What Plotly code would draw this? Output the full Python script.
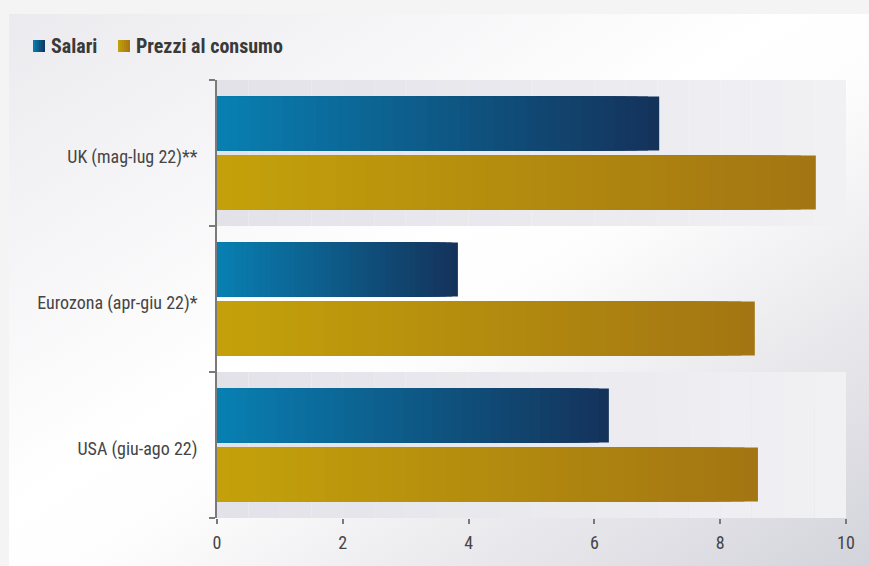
import base64
import plotly.graph_objects as go

# ---- data ----
categories = ["USA (giu-ago 22)", "Eurozona (apr-giu 22)*", "UK (mag-lug 22)**"]
salari = [6.23, 3.83, 7.03]
prezzi = [8.60, 8.55, 9.52]
series_names = ["Salari", "Prezzi al consumo"]
x_ticks = [0, 2, 4, 6, 8, 10]

# ---- styles ----
FONT = "Roboto Condensed, Roboto, Arial"
TXT = "#454545"
AX = "#7a7a7a"
sal_grad = ((8, 128, 178), (20, 50, 90))
pre_grad = ((196, 162, 10), (163, 117, 19))
N = 40


def lerp(c0, c1, t):
    return "rgb(%d,%d,%d)" % tuple(round(a + (b - a) * t) for a, b in zip(c0, c1))


fig = go.Figure()

bar_w = 0.37
specs = [
    (series_names[0], salari, sal_grad, 0.017),
    (series_names[1], prezzi, pre_grad, -0.387),
]
for name, vals, grad, off in specs:
    for k in range(N, 0, -1):
        t = (k - 0.5) / N
        fig.add_trace(go.Bar(
            y=list(range(len(categories))),
            x=[v * k / N for v in vals],
            orientation="h",
            width=bar_w,
            offset=off,
            marker=dict(color=lerp(grad[0], grad[1], t), line=dict(width=0)),
            name=name,
            showlegend=False,
            legendgroup=name,
            hoverinfo="skip",
        ))

L, R, T, B = 217, 846, 80, 518
pw, ph = R - L, B - T


def px_x(p):
    return (p - L) / pw


def px_y(p):
    return (B - p) / ph


# background bands (alternate categories), horizontal light gradient
band_c0, band_c1 = (227, 226, 233), (241, 241, 244)
S = 20
for i in range(len(categories)):
    if i % 2 == 0:
        for s in range(S):
            fig.add_shape(type="rect", xref="x", yref="y",
                          x0=10 * s / S, x1=10 * (s + 1) / S,
                          y0=i - 0.5, y1=i + 0.5,
                          fillcolor=lerp(band_c0, band_c1, (s + 0.5) / S),
                          line=dict(width=0), layer="below")

# custom legend: gradient squares + bold labels
legend_items = [(series_names[0], sal_grad, 33, 50), (series_names[1], pre_grad, 118, 135)]
sq = 12
ly = 46
M = 6
for name, grad, sx, tx in legend_items:
    for s in range(M):
        fig.add_shape(type="rect", xref="paper", yref="paper",
                      x0=px_x(sx + sq * s / M), x1=px_x(sx + sq * (s + 1) / M),
                      y0=px_y(ly + sq / 2), y1=px_y(ly - sq / 2),
                      fillcolor=lerp(grad[0], grad[1], (s + 0.5) / M),
                      line=dict(width=0))
    fig.add_annotation(text="<b>%s</b>" % name, xref="paper", yref="paper",
                       x=px_x(tx - 1), y=px_y(ly), xanchor="left", yanchor="middle",
                       showarrow=False,
                       font=dict(family=FONT, size=20, color="#3a3a3a"))

# panel background gradient via svg image
svg = ('<svg xmlns="http://www.w3.org/2000/svg" width="860" height="552" preserveAspectRatio="none">'
       '<defs><linearGradient id="g" x1="0" y1="0" x2="1" y2="1">'
       '<stop offset="0" stop-color="#ebebef"/>'
       '<stop offset="0.45" stop-color="#ffffff"/>'
       '<stop offset="0.55" stop-color="#fdfdfd"/>'
       '<stop offset="1" stop-color="#d3d3db"/>'
       '</linearGradient></defs>'
       '<rect width="860" height="552" fill="url(#g)"/></svg>')
src = "data:image/svg+xml;base64," + base64.b64encode(svg.encode()).decode()

fig.add_layout_image(dict(
    source=src, xref="paper", yref="paper",
    x=px_x(9), y=px_y(14),
    sizex=(869 - 9) / pw, sizey=(566 - 14) / ph,
    xanchor="left", yanchor="top", sizing="stretch", layer="below",
))

fig.update_layout(
    width=869, height=566,
    margin=dict(l=L, r=869 - R, t=T, b=566 - B),
    paper_bgcolor="#f4f4f4",
    plot_bgcolor="rgba(0,0,0,0)",
    barmode="overlay",
    font=dict(family=FONT, color=TXT, size=18),
    showlegend=False,
    xaxis=dict(
        range=[0, 10], tickvals=x_ticks, showgrid=False, zeroline=False,
        showline=False, ticks="outside", ticklen=5, tickwidth=2, tickcolor=AX,
        tickfont=dict(size=18, color=TXT), ticklabelstandoff=3, fixedrange=True,
    ),
    yaxis=dict(
        range=[-0.5, len(categories) - 0.5],
        tickvals=list(range(len(categories))), ticktext=categories,
        showgrid=False, zeroline=False, showline=True, linecolor=AX, linewidth=2,
        ticks="", tickfont=dict(size=18, color=TXT), ticklabelstandoff=14,
        ticklabelshift=4,
        minor=dict(tickvals=[i - 0.5 for i in range(len(categories) + 1)],
                   ticks="outside", ticklen=6, tickwidth=2, tickcolor=AX),
    ),
)

fig.write_html("out.html")
